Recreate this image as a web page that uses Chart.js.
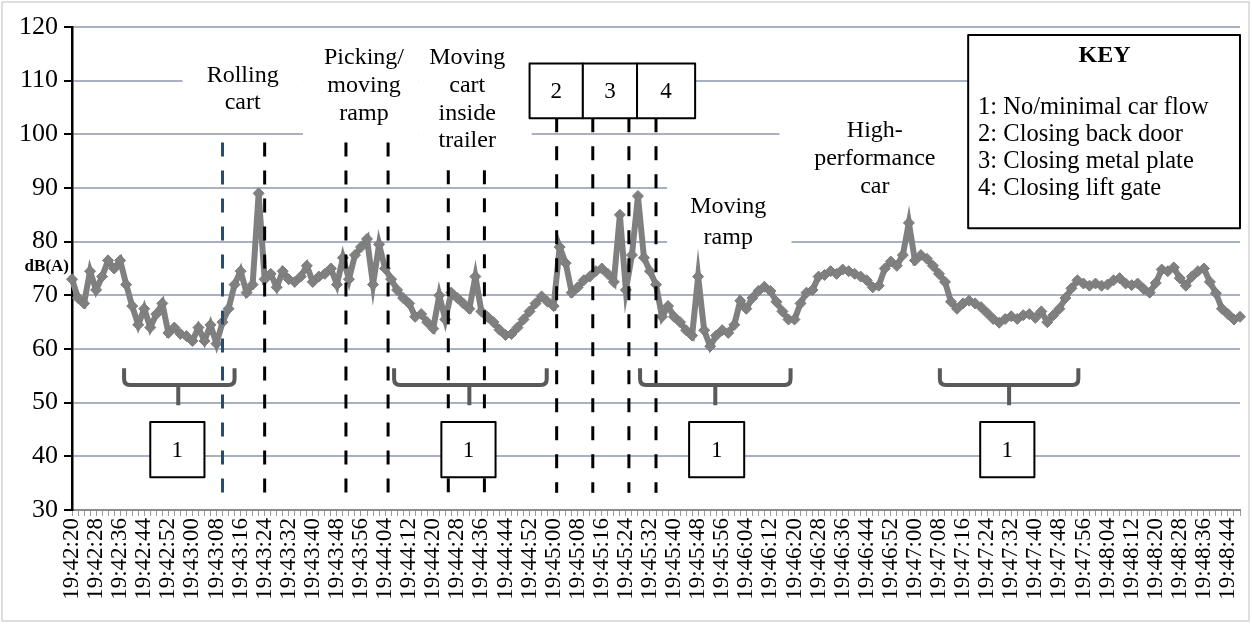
<!DOCTYPE html>
<html>
<head>
<meta charset="utf-8">
<script src="https://cdn.jsdelivr.net/npm/chart.js@4.4.1/dist/chart.umd.min.js"></script>
<style>
  html, body { margin: 0; padding: 0; background: #fff; }
  #wrap { width: 1252px; height: 624px; position: relative; }
</style>
</head>
<body>
<div id="wrap"><canvas id="noise-chart"></canvas></div>
<script>
// sound level samples, one every 2 s starting 19:42:20
const startSec = 19 * 3600 + 42 * 60 + 20;
const stepSec = 2;
const labelEverySec = 8;
const levels = [
    73, 69.5, 68.5, 74.5, 71, 73.5, 76.5, 75, 76.5, 72,
    68, 64.5, 67.5, 64, 66.5, 68.5, 63, 64, 62.8, 62.4,
    61.5, 64, 61.5, 64.5, 61, 65, 67.5, 72, 74.5, 70.5,
    72, 89, 73, 74, 71.5, 74.5, 73, 72.5, 73.5, 75.5,
    72.5, 73.5, 74, 75, 72, 77, 73, 77.5, 79, 80.5,
    72, 79.5, 75, 73, 71, 69.5, 68.5, 66, 66.5, 65,
    63.8, 70, 65.5, 70.5, 69.5, 68.5, 67.5, 73.5, 67, 66,
    65, 63.6, 62.6, 62.8, 64, 65.5, 67, 68.5, 69.8, 68.8,
    68, 79, 76, 70.5, 71.5, 72.8, 73.5, 74.5, 75, 74,
    72.5, 85, 71, 77.5, 88.5, 77, 74.5, 72, 66, 68,
    66, 65, 63.5, 62.5, 73.5, 63.5, 60.5, 62.5, 63.5, 63,
    64.5, 69, 67.5, 69.5, 70.8, 71.6, 70.8, 68.8, 67, 65.5,
    65.5, 68.5, 70.5, 71, 73.5, 73.8, 74.5, 74, 74.8, 74.5,
    74, 73.5, 72.8, 71.5, 71.8, 75, 76.3, 75.5, 77.5, 83.5,
    76.5, 77.5, 76.8, 75.5, 74, 72.5, 68.8, 67.5, 68.5, 69,
    68.5, 67.8, 66.7, 65.6, 64.9, 65.6, 66.1, 65.6, 66.3, 66.5,
    65.8, 67, 65, 66.3, 67.5, 69.5, 71.3, 72.8, 72.2, 71.8,
    72.2, 71.8, 72, 72.8, 73.2, 72.2, 71.9, 72.2, 71.2, 70.5,
    72.3, 74.8, 74.5, 75.2, 73.2, 71.8, 73.5, 74.5, 75, 72.5,
    70.4, 67.5, 66.5, 65.5, 66
];

// annotation positions in chart units: seconds after start, dB(A)
const blueMarks = [[50, 98.5]];
const blackMarks = [[64, 98.5], [91, 98.5], [105, 98.5], [125, 93.3], [137, 93.3],
                    [161, 103], [173, 103], [185, 103], [194, 103]];
const markBottom = 33.2;
const brackets = [[17.3, 54, 35.3], [107, 157.7, 132], [188.7, 238.7, 213.7], [288.3, 334.3, 311.3]];
const quietBoxes = [[26, 44], [122.7, 140.7], [205, 223.3], [301.7, 319.7]];
const eventBoxes = [['2', 152, 169.7], ['3', 169.7, 187.7], ['4', 187.7, 207]];
const masks = [
    [36.7, 76.7, 114.7, 101.7], [76.7, 115, 117.5, 99.8], [115, 152.7, 117.5, 96.1],
    [197.7, 239, 93.3, 78], [235, 297.7, 104.5, 87.7]
];
const notes = [
    { t: 56.7, v: 111, lines: ['Rolling', 'cart'] },
    { t: 97, v: 114.2, lines: ['Picking/', 'moving', 'ramp'] },
    { t: 131.3, v: 114.2, lines: ['Moving', 'cart', 'inside', 'trailer'] },
    { t: 218, v: 86.6, lines: ['Moving', 'ramp'], step: 5.8 },
    { t: 266.7, v: 100.6, lines: ['High-', 'performance', 'car'] }
];
const keyLines = ['1: No/minimal car flow', '2: Closing back door', '3: Closing metal plate', '4: Closing lift gate'];

function clock(sec) {
    const h = Math.floor(sec / 3600), m = Math.floor(sec / 60) % 60, s = sec % 60;
    return h + ':' + String(m).padStart(2, '0') + ':' + String(s).padStart(2, '0');
}
const times = levels.map((_, i) => clock(startSec + i * stepSec));

const serif = "'Liberation Serif', 'Times New Roman', serif";

function px(chart, t) { return chart.scales.x.getPixelForValue(t / stepSec); }
function py(chart, v) { return chart.scales.y.getPixelForValue(v); }

function boxedText(ctx, chart, t1, t2, vTop, vBot, text) {
    const x1 = px(chart, t1), x2 = px(chart, t2), y1 = py(chart, vTop), y2 = py(chart, vBot);
    ctx.fillStyle = '#fff';
    ctx.fillRect(x1, y1, x2 - x1, y2 - y1);
    ctx.strokeStyle = '#000';
    ctx.lineWidth = 2;
    ctx.strokeRect(x1, y1, x2 - x1, y2 - y1);
    ctx.fillStyle = '#000';
    ctx.font = '23px ' + serif;
    ctx.textAlign = 'center';
    ctx.textBaseline = 'middle';
    ctx.fillText(text, (x1 + x2) / 2, (y1 + y2) / 2 + 1);
}

const notesPlugin = {
    id: 'notes',
    beforeDraw(chart) {
        const ctx = chart.ctx;
        ctx.save();
        ctx.strokeStyle = '#d4d4d4';
        ctx.lineWidth = 1.5;
        ctx.strokeRect(2, 2, chart.width - 5, chart.height - 5);
        ctx.restore();
    },
    beforeDatasetsDraw(chart) {
        const ctx = chart.ctx;
        ctx.save();
        ctx.fillStyle = '#fff';
        masks.forEach(m => {
            const x1 = px(chart, m[0]), x2 = px(chart, m[1]);
            const y1 = py(chart, m[2]), y2 = py(chart, m[3]);
            ctx.fillRect(x1, y1, x2 - x1, y2 - y1);
        });
        ctx.restore();
    },
    afterDatasetsDraw(chart) {
        const ctx = chart.ctx;
        ctx.save();

        // event markers
        ctx.setLineDash([14, 14]);
        ctx.lineWidth = 3;
        const drawMark = (m, color) => {
            const x = px(chart, m[0]);
            ctx.strokeStyle = color;
            ctx.beginPath();
            ctx.moveTo(x, py(chart, m[1]));
            ctx.lineTo(x, py(chart, markBottom));
            ctx.stroke();
        };
        blueMarks.forEach(m => drawMark(m, '#1f4e79'));
        blackMarks.forEach(m => drawMark(m, '#000'));
        ctx.setLineDash([]);

        // brackets under quiet periods
        ctx.strokeStyle = '#595959';
        ctx.lineWidth = 4;
        ctx.lineJoin = 'round';
        const top = py(chart, 56.4), mid = py(chart, 53.3), low = py(chart, 49.5);
        brackets.forEach(b => {
            const x1 = px(chart, b[0]), x2 = px(chart, b[1]), xc = px(chart, b[2]);
            const r = 6;
            ctx.beginPath();
            ctx.moveTo(x1, top);
            ctx.lineTo(x1, mid - r);
            ctx.quadraticCurveTo(x1, mid, x1 + r, mid);
            ctx.lineTo(x2 - r, mid);
            ctx.quadraticCurveTo(x2, mid, x2, mid - r);
            ctx.lineTo(x2, top);
            ctx.moveTo(xc, mid);
            ctx.lineTo(xc, low);
            ctx.stroke();
        });

        quietBoxes.forEach(b => boxedText(ctx, chart, b[0], b[1], 46.4, 36.1, '1'));
        eventBoxes.forEach(b => boxedText(ctx, chart, b[1], b[2], 113.2, 103, b[0]));

        // activity labels
        ctx.fillStyle = '#000';
        ctx.font = '24px ' + serif;
        ctx.textAlign = 'center';
        ctx.textBaseline = 'middle';
        notes.forEach(n => {
            const step = n.step || 5.15;
            n.lines.forEach((line, i) => ctx.fillText(line, px(chart, n.t), py(chart, n.v - i * step)));
        });

        // key
        const kx1 = px(chart, 297.7), kx2 = chart.chartArea.right;
        const ky1 = py(chart, 118.5), ky2 = py(chart, 82.5);
        ctx.fillStyle = '#fff';
        ctx.fillRect(kx1, ky1, kx2 - kx1, ky2 - ky1);
        ctx.strokeStyle = '#000';
        ctx.lineWidth = 2;
        ctx.strokeRect(kx1, ky1, kx2 - kx1, ky2 - ky1);
        ctx.fillStyle = '#000';
        ctx.font = 'bold 24px ' + serif;
        ctx.fillText('KEY', px(chart, 343), py(chart, 114.7));
        ctx.font = '24.5px ' + serif;
        ctx.textAlign = 'left';
        keyLines.forEach((line, i) => ctx.fillText(line, px(chart, 301), py(chart, 104.9 - i * 5.0)));

        // axis unit
        ctx.font = 'bold 17px ' + serif;
        ctx.textAlign = 'right';
        ctx.fillText('dB(A)', chart.chartArea.left - 3, py(chart, 75.3));
        ctx.restore();
    }
};

new Chart(document.getElementById('noise-chart'), {
    type: 'line',
    data: {
        labels: times,
        datasets: [{
            label: 'dB(A)',
            data: levels,
            borderColor: '#808080',
            backgroundColor: '#808080',
            borderWidth: 6,
            pointStyle: 'rectRot',
            pointRadius: 5.5,
            pointBorderWidth: 1,
            pointBorderColor: '#7a7a7a',
            tension: 0,
            fill: false
        }]
    },
    options: {
        responsive: true,
        maintainAspectRatio: false,
        animation: false,
        layout: { padding: { left: 0, top: 27, right: 12, bottom: 4 } },
        plugins: {
            legend: { display: false },
            tooltip: { enabled: false }
        },
        scales: {
            x: {
                type: 'category',
                afterFit: s => { s.height = 110; s.paddingLeft = 0; s.paddingRight = 0; },
                border: { color: '#8c8c8c', width: 2 },
                grid: { drawOnChartArea: false, drawTicks: true, tickLength: 6, color: '#9a9a9a' },
                ticks: {
                    autoSkip: false,
                    minRotation: 90,
                    maxRotation: 90,
                    color: '#000',
                    padding: 2,
                    font: { family: serif, size: 23 },
                    callback: function (value, index) {
                        return (index * stepSec) % labelEverySec === 0 ? times[index] : '';
                    }
                }
            },
            y: {
                min: 30,
                max: 120,
                afterFit: s => { s.width = 72; },
                border: { color: '#000', width: 2.5 },
                grid: { color: '#a9b0c4', lineWidth: 2, tickLength: 8, tickColor: '#000' },
                ticks: {
                    stepSize: 10,
                    color: '#000',
                    padding: 6,
                    font: { family: serif, size: 26 }
                }
            }
        }
    },
    plugins: [notesPlugin]
});
</script>
</body>
</html>
